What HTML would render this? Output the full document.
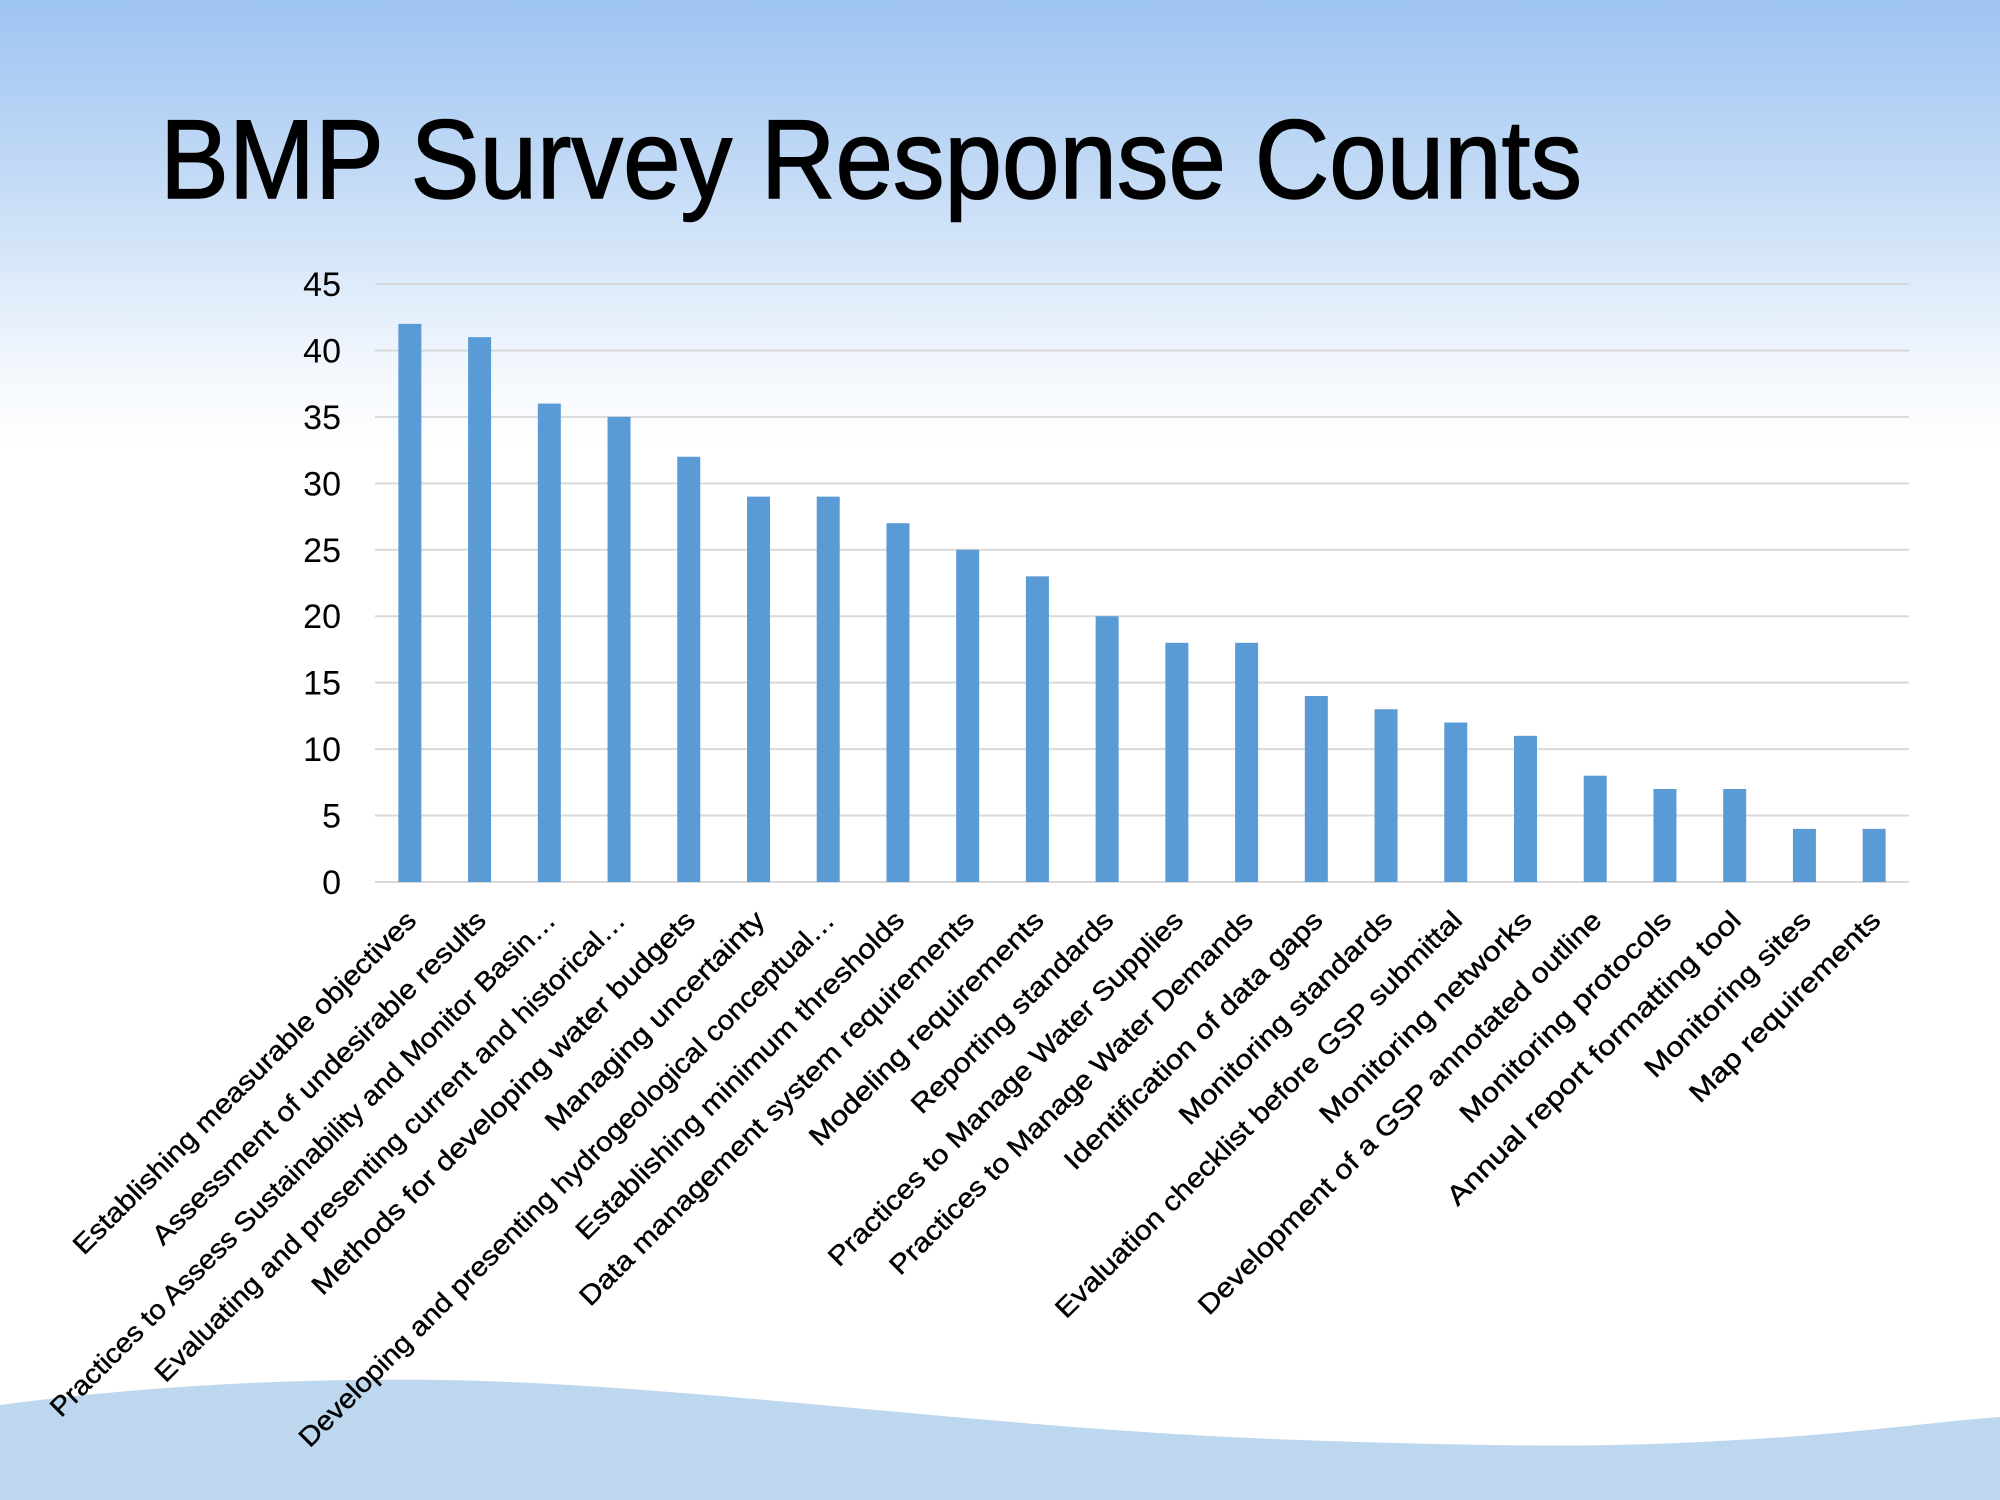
<!DOCTYPE html>
<html><head><meta charset="utf-8"><style>
html,body{margin:0;padding:0;}
body{width:2000px;height:1500px;overflow:hidden;}
svg{display:block;}
text{font-family:"Liberation Sans",sans-serif;}
</style></head><body>
<svg width="2000" height="1500" viewBox="0 0 2000 1500" xmlns="http://www.w3.org/2000/svg">
<defs>
<linearGradient id="bg" x1="0" y1="0" x2="0" y2="1">
<stop offset="0" stop-color="#9ec4f2"/>
<stop offset="0.12" stop-color="#c4dbf6"/>
<stop offset="0.25" stop-color="#f4f8fd"/>
<stop offset="0.3" stop-color="#ffffff"/>
<stop offset="1" stop-color="#ffffff"/>
</linearGradient>
</defs>
<rect width="2000" height="1500" fill="url(#bg)"/>
<path d="M0,1405 C150,1385 300,1378 446,1380 C700,1385 1000,1430 1300,1440 C1500,1447 1600,1447 1700,1442 C1850,1435 1930,1422 2000,1417 L2000,1500 L0,1500 Z" fill="#bdd7ee"/>
<text x="160" y="198" font-size="112" fill="#000" stroke="#000" stroke-width="1.5" textLength="1422" lengthAdjust="spacingAndGlyphs">BMP Survey Response Counts</text>
<g id="chart"></g>
</svg>
<script>
const data=[["Establishing measurable objectives",42,58],["Assessment of undesirable results",41,120],["Practices to Assess Sustainability and Monitor Basin…",36,40],["Evaluating and presenting current and historical…",35,122],["Methods for developing water budgets",32,245],["Managing uncertainty",29,428],["Developing and presenting hydrogeological conceptual…",29,235],["Establishing minimum thresholds",27,452],["Data management system requirements",25,455],["Modeling requirements",23,635],["Reporting standards",20,715],["Practices to Manage Water Supplies",18,650],["Practices to Manage Water Demands",18,698],["Identification of data gaps",14,835],["Monitoring standards",13,925],["Evaluation checklist before GSP submittal",12,828],["Monitoring networks",11,1035],["Development of a GSP annotated outline",8,940],["Monitoring protocols",7,1145],["Annual report formatting tool",7,1135],["Monitoring sites",4,1290],["Map requirements",4,1325]];
const g=document.getElementById('chart');
const L=375,R=1909,Y0=882,Y45=284;
const sy=v=>Y0-(Y0-Y45)*v/45;
let s='';
for(let v=0;v<=45;v+=5){const y=sy(v);
s+=`<line x1="${L}" x2="${R}" y1="${y}" y2="${y}" stroke="#d9d9d9" stroke-width="2"/>`;
s+=`<text x="341" y="${y+12}" font-size="34" text-anchor="end" fill="#000">${v}</text>`;}
const step=(R-L)/22;
data.forEach((d,i)=>{const cx=L+step*(i+0.5);const y=sy(d[1]);
s+=`<rect x="${cx-11.5}" y="${y}" width="23" height="${Y0-y}" fill="#5b9bd5"/>`;
const tl=(cx+8-d[2]*1.2755)*1.414-14;
s+=`<text transform="translate(${cx+8},${922}) rotate(-45)" font-size="27" text-anchor="end" fill="#000" stroke="#000" stroke-width="0.4" textLength="${tl.toFixed(1)}" lengthAdjust="spacingAndGlyphs">${d[0]}</text>`;
});
g.innerHTML=s;
</script>
</body></html>
